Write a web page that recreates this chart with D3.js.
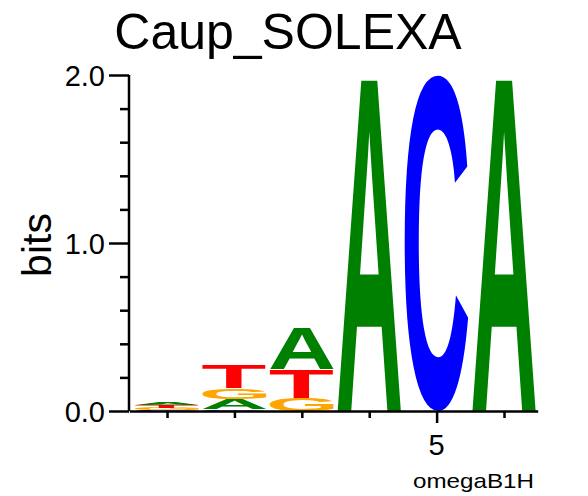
<!DOCTYPE html>
<meta charset="utf-8">
<style>
body{margin:0;background:#fff;}
svg text.lbl{font-family:"Liberation Sans",Arial,sans-serif;fill:#000;}
</style>
<svg id="logo" width="588" height="496"></svg>
<script src="https://cdn.jsdelivr.net/npm/d3@7"></script>
<script>
// sequence logo: stacked letters per position, height in bits
const positions = [1, 2, 3, 4, 5, 6]
const bitsA = [0.017, 0.060, 0.250, 2.000, 0.000, 2.000]
const bitsC = [0.003, 0.010, 0.000, 0.000, 2.000, 0.000]
const bitsG = [0.015, 0.065, 0.080, 0.000, 0.000, 0.000]
const bitsT = [0.016, 0.140, 0.170, 0.000, 0.000, 0.000]
const letterColor = {A: '#008000', C: '#0000ff', G: '#ffa500', T: '#ff0000'}
const yMajor = [0, 1, 2]
const xLabelled = [5]

let svg = d3.select('#logo')
let x = d3.scaleLinear().domain([0.44, 6.5]).range([129.3, 537.7])
let y = d3.scaleLinear().domain([0, 2]).range([411, 75])

// ink bounds of each glyph, so the letter fills its box exactly
let ctx = document.createElement('canvas').getContext('2d')
const glyphFont = 'bold 100px "Liberation Sans"'
ctx.font = glyphFont
let ink = {}
Object.keys(letterColor).forEach(l => {
  let m = ctx.measureText(l)
  ink[l] = {left: m.actualBoundingBoxLeft, right: m.actualBoundingBoxRight,
            asc: m.actualBoundingBoxAscent, desc: m.actualBoundingBoxDescent}
})

// build stacks: smallest at bottom
let stacks = positions.map((p, i) => {
  let col = [['A', bitsA[i]], ['C', bitsC[i]], ['G', bitsG[i]], ['T', bitsT[i]]]
    .filter(d => d[1] > 0)
    .sort((a, b) => a[1] - b[1])
  let base = 0
  return col.map(([l, h]) => {
    let d = {pos: p, letter: l, y0: base, y1: base + h}
    base += h
    return d
  })
}).flat()

const halfW = 0.475
svg.append('g').selectAll('text').data(stacks).join('text')
  .text(d => d.letter)
  .style('font', glyphFont)
  .style('fill', d => letterColor[d.letter])
  .attr('transform', d => {
    let g = ink[d.letter]
    let x0 = x(d.pos - halfW), x1 = x(d.pos + halfW)
    let top = y(d.y1), bot = y(d.y0)
    let sx = (x1 - x0) / (g.left + g.right)
    let sy = (bot - top) / (g.asc + g.desc)
    return `translate(${x0},${top}) scale(${sx},${sy}) translate(${g.left},${g.asc})`
  })

// y axis
let yAxis = svg.append('g').attr('transform', 'translate(129,0)')
  .call(d3.axisLeft(y).tickValues(d3.range(0, 11).map(i => i * 0.2)).tickSize(0).tickFormat(''))
yAxis.selectAll('.tick text').remove()
yAxis.select('.domain').attr('stroke-width', 2.5).attr('d', `M0,${y(2)}V${y(0)}`)
yAxis.selectAll('.tick line')
  .attr('stroke-width', 2.5)
  .attr('x2', d => yMajor.some(v => Math.abs(v - d) < 1e-6) ? -20 : -9)
svg.append('g').selectAll('text').data(yMajor).join('text').attr('class', 'lbl')
  .attr('x', 105).attr('y', d => y(d) + 10.5)
  .attr('text-anchor', 'end').style('font-size', '29px')
  .text(d => d3.format('.1f')(d))

// x axis
let xAxis = svg.append('g').attr('transform', 'translate(0,411)')
  .call(d3.axisBottom(x).tickValues(positions).tickSizeOuter(0).tickSize(0).tickFormat(''))
xAxis.selectAll('.tick text').remove()
xAxis.select('.domain').attr('stroke-width', 2.5)
xAxis.selectAll('.tick line')
  .attr('stroke-width', 2.5)
  .attr('y2', d => xLabelled.includes(d) ? 12 : 7)
svg.append('g').selectAll('text').data(xLabelled).join('text').attr('class', 'lbl')
  .attr('x', d => x(d)).attr('y', 455)
  .attr('text-anchor', 'middle').style('font-size', '29px')
  .text(d => d)

svg.append('text').attr('class', 'lbl').attr('x', 413).attr('y', 488)
  .style('font-size', '21px').attr('textLength', 121).attr('lengthAdjust', 'spacingAndGlyphs')
  .text('omegaB1H')

svg.append('text').attr('class', 'lbl').attr('transform', 'translate(51,245) rotate(-90)')
  .attr('text-anchor', 'middle').style('font-size', '41px').text('bits')

svg.append('text').attr('class', 'lbl').attr('x', 288).attr('y', 49).attr('text-anchor', 'middle')
  .style('font-size', '50px').text('Caup_SOLEXA')
</script>
